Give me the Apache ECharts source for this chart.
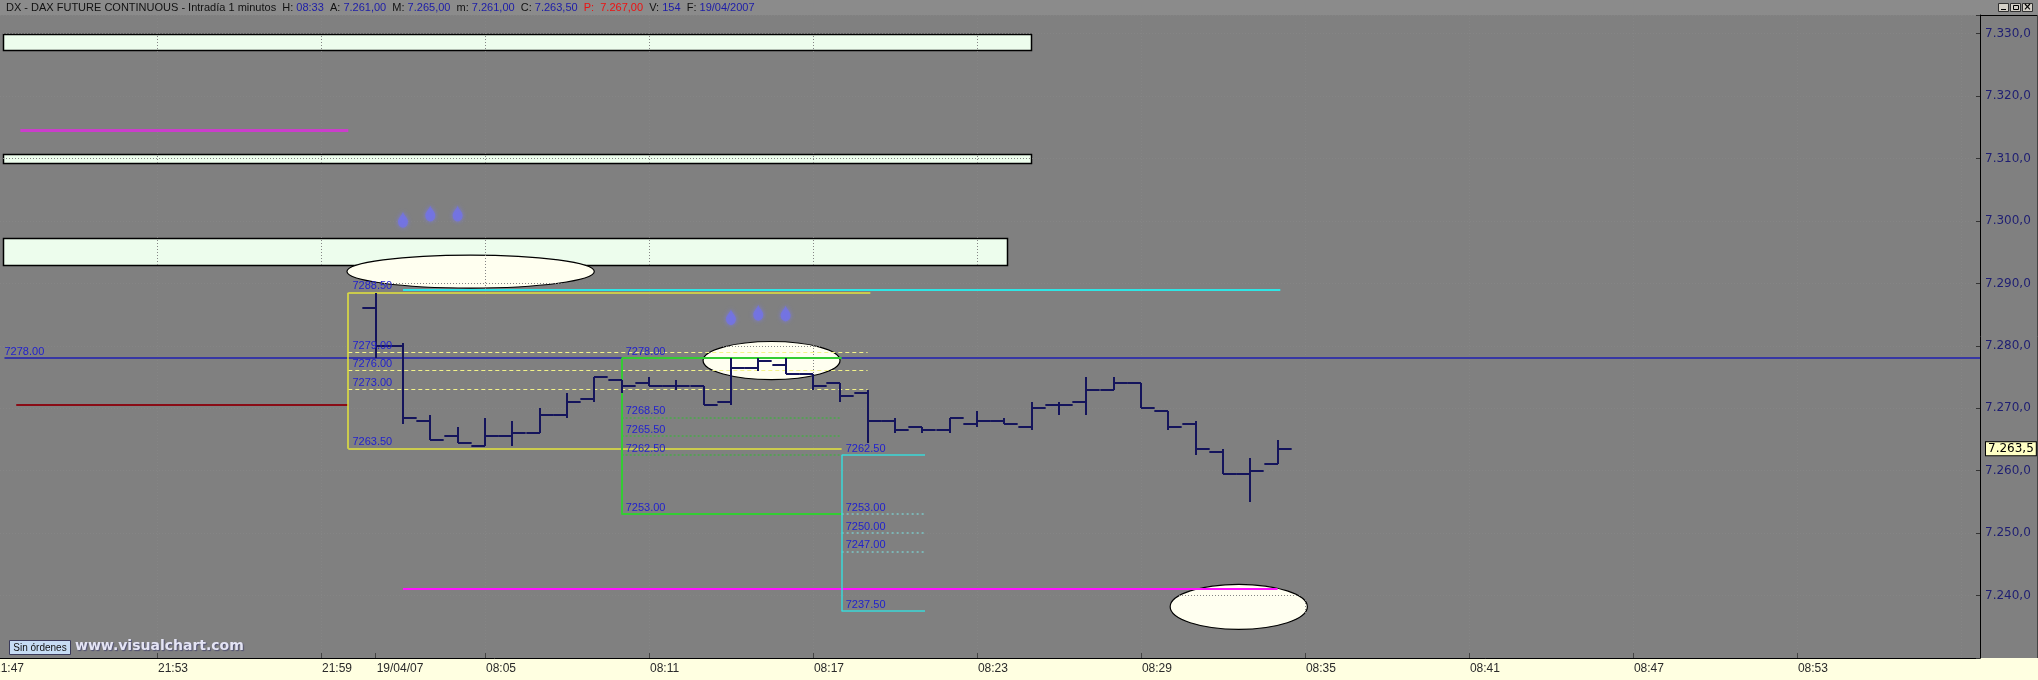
<!DOCTYPE html>
<html><head><meta charset="utf-8">
<script src="https://cdn.jsdelivr.net/npm/echarts@6/dist/echarts.min.js"></script>
<style>html,body{margin:0;padding:0;background:#808080;}#c{width:2038px;height:680px;}</style>
</head><body><div id="c"></div>
<script>
// ---------------- DATA ----------------
const instrument = 'DX - DAX FUTURE CONTINUOUS - Intradía 1 minutos';
const lastTime = '08:33';
const prevClose = 7267;
const volume = 154;
const dateStr = '19/04/2007';

// time axis (bar index positions)
const tickIndex  = [0, 6, 12, 14, 18, 24, 30, 36, 42, 48, 54, 60, 66];
const tickLabels = ['21:47','21:53','21:59','19/04/07','08:05','08:11','08:17','08:23','08:29','08:35','08:41','08:47','08:53'];
const gridIndex  = [6, 12, 18, 24, 30, 36, 42, 48, 54, 60, 66, 72];
const xMin = 0.256, xMax = 72.7;
const yMin = 7230, yMax = 7333, yStep = 10;

// 1-minute OHLC bars, first bar at index 14
const firstBarIndex = 14;
const barOpen  = [7286, 7280, 7268, 7265.5, 7264, 7265.5, 7266, 7269, 7271.5, 7274.5, 7274, 7273.5, 7273.5, 7271, 7276.5, 7277, 7275.5, 7274, 7272.5, 7268, 7267, 7266.5, 7267.5, 7268, 7267, 7270.5, 7271, 7273, 7274, 7269.5, 7267.5, 7263, 7259.5, 7261];
const barHigh  = [7288.5, 7280.5, 7269, 7267, 7268.5, 7268, 7270, 7272.5, 7275, 7274.5, 7275, 7274.5, 7273.5, 7278, 7278, 7278, 7275.5, 7274, 7273, 7268.5, 7267, 7268.5, 7269.5, 7268.5, 7271, 7271, 7275, 7275, 7274, 7269.5, 7268, 7263.5, 7262, 7265];
const barLow   = [7278, 7267.5, 7265, 7264.5, 7264, 7264, 7266, 7268.5, 7271, 7272.5, 7273.5, 7273, 7270.5, 7270.5, 7276, 7275.5, 7273, 7271, 7264.5, 7266, 7266, 7266, 7267, 7267.5, 7266.5, 7269, 7269, 7273, 7270, 7266.5, 7262.5, 7259.5, 7255, 7261];
const barClose = [7280, 7268.5, 7265, 7264.5, 7265.5, 7266, 7269, 7271, 7275, 7273.5, 7273.5, 7273.5, 7270.5, 7276.5, 7277.5, 7275.5, 7273.5, 7272, 7268, 7266.5, 7266.5, 7268.5, 7268, 7267.5, 7270, 7270.5, 7273, 7274, 7270, 7267, 7263.5, 7259.5, 7260, 7263.5];

// light green zones (x from, x to, low, high)
const zoneFrom = [0.38, 0.38, 0.38];
const zoneTo   = [38.0, 38.0, 37.1];
const zoneLow  = [7327.5, 7309.3, 7292.9];
const zoneHigh = [7330.0, 7310.8, 7297.2];

// highlight ovals (x from, x to, low, high)
const ovalFrom = [12.95, 25.98, 43.07];
const ovalTo   = [22.0, 30.99, 48.09];
const ovalLow  = [7289.25, 7274.6, 7234.6];
const ovalHigh = [7294.55, 7280.7, 7241.8];

// single horizontal lines [from, to, level]
const pivotLine    = [0.42, 72.7, 7278];
const magentaUpper = [1, 13, 7314.5];
const darkRedLine  = [0.85, 13, 7270.5];
const magentaLower = [15, 47, 7241];
const cyanTopLine  = [15, 47.1, 7289];

// yellow retracement box
const yellowFrom = 13, yellowTopTo = 32.1, yellowBottomTo = 31.05, yellowInnerTo = 32;
const yellowTop = 7288.5, yellowBottom = 7263.5;
const yellowInner = [7279, 7276, 7273];

// green projection box
const greenFrom = 23, greenTo = 31.05;
const greenTop = 7278, greenBottom = 7253;
const greenInner = [7268.5, 7265.5, 7262.5];

// cyan projection box
const cyanFrom = 31.05, cyanTo = 34.1;
const cyanTop = 7262.5, cyanBottom = 7237.5;
const cyanInner = [7253, 7250, 7247];

// blue signal arrows
const arrowX = [15, 16, 17, 27, 28, 29];
const arrowY = [7300.2, 7301.2, 7301.2, 7284.6, 7285.3, 7285.2];

// ---------------- HELPERS ----------------
function fmtEs(v, d) {
  const p = v.toFixed(d).split('.');
  const ip = p[0].replace(/\B(?=(\d{3})+(?!\d))/g, '.');
  return p.length > 1 ? ip + ',' + p[1] : ip;
}
function crisp(v, w) { return (Math.round(w) % 2 === 1) ? Math.floor(v) + 0.5 : Math.round(v); }

function segSeries(name, segs, color, width, dash, z) {
  return {
    type: 'custom', name: name, z: z || 4, silent: true, clip: false,
    data: segs, encode: { x: [0, 2], y: [1, 3] },
    renderItem: function (p, api) {
      const a = api.coord([api.value(0), api.value(1)]);
      const b = api.coord([api.value(2), api.value(3)]);
      let x1 = a[0], y1 = a[1], x2 = b[0], y2 = b[1];
      if (Math.abs(y1 - y2) < 0.01) { y1 = y2 = crisp(y1, width); }
      if (Math.abs(x1 - x2) < 0.01) { x1 = x2 = crisp(x1, width); }
      return { type: 'line', shape: { x1: x1, y1: y1, x2: x2, y2: y2 },
        style: { stroke: color, lineWidth: width, lineDash: dash || null, fill: null } };
    }
  };
}
function hSeg(from, to, y) { return [from, y, to, y]; }
function vSeg(x, y1, y2) { return [x, y1, x, y2]; }

function labelSeries(name, pts, color) {
  return {
    type: 'custom', name: name, z: 6, silent: true, clip: false,
    data: pts.map(p => [p[0], p[1]]), encode: { x: 0, y: 1 },
    renderItem: function (p, api) {
      const c = api.coord([api.value(0), api.value(1)]);
      return { type: 'text', x: c[0], y: c[1] - 1,
        style: { text: api.value(1).toFixed(2), fill: color, font: '11px "Liberation Sans", Arial, sans-serif',
          align: 'left', verticalAlign: 'bottom' } };
    }
  };
}

const gridColor = '#858585';
const levelLabelColor = '#2222cc';
const axisFont = '12px "Liberation Sans Narrow", "Liberation Sans", Arial, sans-serif';

// build segment groups
const yellowSolid = [
  hSeg(yellowFrom, yellowTopTo, yellowTop),
  hSeg(yellowFrom, yellowBottomTo, yellowBottom),
  vSeg(yellowFrom, yellowBottom, yellowTop)
];
const yellowDashed = yellowInner.map(v => hSeg(yellowFrom, yellowInnerTo, v));
const greenSolid = [
  hSeg(greenFrom, greenTo, greenTop),
  hSeg(greenFrom, greenTo, greenBottom),
  vSeg(greenFrom, greenBottom, greenTop)
];
const greenDotted = greenInner.map(v => hSeg(greenFrom, greenTo, v));
const cyanSolid = [
  hSeg(cyanFrom, cyanTo, cyanTop),
  hSeg(cyanFrom, cyanTo, cyanBottom),
  vSeg(cyanFrom, cyanBottom, cyanTop)
];
const cyanDotted = cyanInner.map(v => hSeg(cyanFrom, cyanTo, v));

const barData = barOpen.map((o, i) => [firstBarIndex + i, o, barHigh[i], barLow[i], barClose[i]]);
const last = barOpen.length - 1;
const lastClose = barClose[last];

const titleText =
  '{k|' + instrument + '  H: }{v|' + lastTime + '}' +
  '{k|  A: }{v|' + fmtEs(barOpen[last], 2) + '}' +
  '{k|  M: }{v|' + fmtEs(barHigh[last], 2) + '}' +
  '{k|  m: }{v|' + fmtEs(barLow[last], 2) + '}' +
  '{k|  C: }{v|' + fmtEs(barClose[last], 2) + '}' +
  '{r|  P:  ' + fmtEs(prevClose, 2) + '}' +
  '{k|  V: }{v|' + volume + '}' +
  '{k|  F: }{v|' + dateStr + '}';

// ---------------- CHART ----------------
const chart = echarts.init(document.getElementById('c'), null, { renderer: 'canvas' });
const option = {
  backgroundColor: '#808080',
  animation: false,
  grid: { left: 0, right: 58, top: 15, bottom: 22, containLabel: false },
  xAxis: [
    {
      type: 'value', min: xMin, max: xMax, position: 'bottom', z: 3,
      axisLine: { show: true, onZero: false, lineStyle: { color: '#000', width: 1 } },
      axisTick: { show: true, inside: true, length: 5, customValues: tickIndex, lineStyle: { color: '#444' } },
      axisLabel: {
        customValues: tickIndex, align: 'left', margin: 5, color: '#2a2a2a', fontSize: 12,
        fontFamily: '"Liberation Sans Narrow", "Liberation Sans", Arial, sans-serif', padding: [0, 0, 0, 1],
        formatter: function (v) { const k = tickIndex.indexOf(Math.round(v)); return k >= 0 ? tickLabels[k] : ''; }
      },
      splitLine: { show: false }
    },
    {
      type: 'value', min: xMin, max: xMax, position: 'top', z: 3,
      axisLine: { show: false }, axisTick: { show: false, customValues: gridIndex }, axisLabel: { show: false, customValues: gridIndex },
      splitLine: { show: true, lineStyle: { color: gridColor, width: 1, type: [1, 2] } }
    }
  ],
  yAxis: {
    type: 'value', position: 'right', min: yMin, max: yMax, interval: yStep, z: 3,
    axisLine: { show: true, onZero: false, lineStyle: { color: '#000', width: 1 } },
    axisTick: { show: true, inside: true, length: 4, lineStyle: { color: '#333' } },
    axisLabel: {
      margin: 5, color: '#1e1e72', fontSize: 12, fontFamily: '"DejaVu Sans", Verdana, sans-serif',
      formatter: function (v) { return (v % 10 === 0 && v > yMin) ? fmtEs(v, 1) : ''; }
    },
    splitLine: { show: true, lineStyle: { color: gridColor, width: 1, type: [1, 2] } }
  },
  series: [
    // light green zones
    {
      type: 'custom', name: 'zones', z: 1, silent: true, clip: false,
      data: zoneFrom.map((x, i) => [x, zoneLow[i], zoneTo[i], zoneHigh[i]]),
      encode: { x: [0, 2], y: [1, 3] },
      renderItem: function (p, api) {
        const a = api.coord([api.value(0), api.value(3)]);
        const b = api.coord([api.value(2), api.value(1)]);
        const x = Math.round(a[0]) + 0.5, y = Math.round(a[1]) + 0.5;
        return { type: 'rect', shape: { x: x, y: y, width: Math.round(b[0] - a[0]), height: Math.round(b[1] - a[1]) },
          style: { fill: '#edfded', stroke: '#000', lineWidth: 1.5 } };
      }
    },
    // ovals
    {
      type: 'custom', name: 'ovals', z: 1, silent: true, clip: false,
      data: ovalFrom.map((x, i) => [x, ovalLow[i], ovalTo[i], ovalHigh[i]]),
      encode: { x: [0, 2], y: [1, 3] },
      renderItem: function (p, api) {
        const a = api.coord([api.value(0), api.value(3)]);
        const b = api.coord([api.value(2), api.value(1)]);
        return { type: 'ellipse', shape: { cx: (a[0] + b[0]) / 2, cy: (a[1] + b[1]) / 2, rx: (b[0] - a[0]) / 2, ry: (b[1] - a[1]) / 2 },
          style: { fill: '#fffff0', stroke: '#000', lineWidth: 1.2 } };
      }
    },
    segSeries('pivot', [hSeg(pivotLine[0], pivotLine[1], pivotLine[2])], '#1f1fb0', 1.6),
    segSeries('magentaUpper', [hSeg(magentaUpper[0], magentaUpper[1], magentaUpper[2])], '#cc3dcc', 3),
    segSeries('darkRed', [hSeg(darkRedLine[0], darkRedLine[1], darkRedLine[2])], '#8a0c16', 2),
    segSeries('magentaLower', [hSeg(magentaLower[0], magentaLower[1], magentaLower[2])], '#ff10ff', 2),
    segSeries('yellowDashed', yellowDashed, '#f4f48a', 1, [4, 3]),
    segSeries('yellowBox', yellowSolid, '#e4e43c', 1.5),
    segSeries('cyanTop', [hSeg(cyanTopLine[0], cyanTopLine[1], cyanTopLine[2])], '#2ee6e6', 2),
    segSeries('greenDotted', greenDotted, '#4aa84a', 1.5, [2, 2]),
    segSeries('greenBox', greenSolid, '#33cc33', 2),
    segSeries('cyanDotted', cyanDotted, '#7cc8c8', 1.5, [2, 3]),
    segSeries('cyanBox', cyanSolid, '#3ad8d8', 1.5),
    {
      type: 'scatter', name: 'arrows', z: 4, silent: true,
      data: arrowX.map((x, i) => [x, arrowY[i]]),
      symbol: 'path://M50 0 C55 20 100 55 100 78 A50 50 0 0 1 0 78 C0 55 45 20 50 0 Z',
      symbolSize: [10, 16],
      itemStyle: { color: '#7272e6', shadowBlur: 4, shadowColor: 'rgba(120,120,255,0.9)' }
    },
    // OHLC bars
    {
      type: 'custom', name: 'DAX', z: 5, silent: true, clip: false,
      data: barData, encode: { x: 0, y: [1, 2, 3, 4] },
      renderItem: function (p, api) {
        const x = api.value(0);
        const pH = api.coord([x, api.value(2)]);
        const pL = api.coord([x, api.value(3)]);
        const pO = api.coord([x, api.value(1)]);
        const pC = api.coord([x, api.value(4)]);
        const w = api.size([1, 0])[0] * 0.5;
        const cx = Math.round(pH[0]);
        const st = { stroke: '#14145c', lineWidth: 2 };
        return { type: 'group', children: [
          { type: 'line', shape: { x1: cx, y1: Math.round(pH[1]), x2: cx, y2: Math.round(pL[1]) }, style: st },
          { type: 'line', shape: { x1: cx - w, y1: Math.round(pO[1]), x2: cx, y2: Math.round(pO[1]) }, style: st },
          { type: 'line', shape: { x1: cx, y1: Math.round(pC[1]), x2: cx + w, y2: Math.round(pC[1]) }, style: st }
        ] };
      },
      markLine: {
        silent: true, symbol: 'none', animation: false,
        lineStyle: { color: 'rgba(0,0,0,0)', width: 1 },
        label: {
          show: true, position: 'end', distance: 6, formatter: fmtEs(lastClose, 1),
          backgroundColor: '#ffffc4', borderColor: '#000', borderWidth: 1, padding: [1, 2, 0, 2],
          color: '#000', fontSize: 12, fontFamily: '"DejaVu Sans", Verdana, sans-serif'
        },
        data: [{ yAxis: lastClose }]
      }
    },
    // first time label, cut by the left edge of the window
    {
      type: 'custom', name: 'edgeTick', z: 6, silent: true, clip: false,
      data: [[tickIndex[0], yMin]], encode: { x: 0, y: 1 },
      renderItem: function (p, api) {
        const c = api.coord([api.value(0), api.value(1)]);
        return { type: 'text', x: c[0] + 1, y: c[1] + 5,
          style: { text: tickLabels[0], fill: '#2a2a2a', font: axisFont, align: 'left', verticalAlign: 'top' } };
      }
    },
    labelSeries('yellowLabels', [[yellowFrom + 0.15, yellowTop]].concat(yellowInner.map(v => [yellowFrom + 0.15, v]), [[yellowFrom + 0.15, yellowBottom]]), levelLabelColor),
    labelSeries('greenLabels', [[greenFrom + 0.15, greenTop]].concat(greenInner.map(v => [greenFrom + 0.15, v]), [[greenFrom + 0.15, greenBottom]]), levelLabelColor),
    labelSeries('cyanLabels', [[cyanFrom + 0.15, cyanTop]].concat(cyanInner.map(v => [cyanFrom + 0.15, v]), [[cyanFrom + 0.15, cyanBottom]]), levelLabelColor),
    labelSeries('pivotLabel', [[pivotLine[0], pivotLine[2]]], levelLabelColor)
  ],
  graphic: [
    { type: 'rect', silent: true, z: -10, shape: { x: 0, y: 0, width: 2038, height: 15 }, style: { fill: '#8b8b8b' } },
    { type: 'rect', silent: true, z: -10, shape: { x: 0, y: 658, width: 2038, height: 22 }, style: { fill: '#ffffe1' } },
    { type: 'line', silent: true, z: 10, shape: { x1: 1980, y1: 15.5, x2: 2038, y2: 15.5 }, style: { stroke: '#000', lineWidth: 1 } },
    { type: 'line', silent: true, z: 10, shape: { x1: 2037.5, y1: 15, x2: 2037.5, y2: 658 }, style: { stroke: '#444', lineWidth: 1 } },
    {
      type: 'text', silent: true, z: 10, x: 6, y: 8,
      style: {
        text: titleText, font: '11px "Liberation Sans", Arial, sans-serif', verticalAlign: 'middle', align: 'left',
        rich: {
          k: { fill: '#111', font: '11px "Liberation Sans", Arial, sans-serif' },
          v: { fill: '#1c1ca8', font: '11px "Liberation Sans", Arial, sans-serif' },
          r: { fill: '#ee1111', font: '11px "Liberation Sans", Arial, sans-serif' }
        }
      }
    },
    // window buttons
    { type: 'rect', silent: true, z: 10, shape: { x: 1998.5, y: 3.5, width: 10, height: 8 }, style: { fill: '#d4d0c8', stroke: '#303030', lineWidth: 1 } },
    { type: 'rect', silent: true, z: 10, shape: { x: 2010.5, y: 3.5, width: 10, height: 8 }, style: { fill: '#d4d0c8', stroke: '#303030', lineWidth: 1 } },
    { type: 'rect', silent: true, z: 10, shape: { x: 2022.5, y: 3.5, width: 10, height: 8 }, style: { fill: '#d4d0c8', stroke: '#303030', lineWidth: 1 } },
    { type: 'line', silent: true, z: 11, shape: { x1: 2001, y1: 9.5, x2: 2006, y2: 9.5 }, style: { stroke: '#000', lineWidth: 1 } },
    { type: 'rect', silent: true, z: 11, shape: { x: 2013.5, y: 5.5, width: 5, height: 4 }, style: { fill: 'none', stroke: '#000', lineWidth: 1 } },
    { type: 'text', silent: true, z: 11, x: 2027.5, y: 7.5, style: { text: '×', fill: '#000', font: 'bold 10px "DejaVu Sans", sans-serif', align: 'center', verticalAlign: 'middle' } },
    // order status box and watermark
    { type: 'rect', silent: true, z: 10, shape: { x: 9.5, y: 640.5, width: 61, height: 14 }, style: { fill: '#c6dcf4', stroke: '#3a3a5a', lineWidth: 1 } },
    { type: 'text', silent: true, z: 11, x: 40, y: 648, style: { text: 'Sin órdenes', fill: '#101010', font: '10px "Liberation Sans", Arial, sans-serif', align: 'center', verticalAlign: 'middle' } },
    { type: 'text', silent: true, z: 10, x: 75, y: 646, style: { text: 'www.visualchart.com', fill: '#e4e4f4', font: 'bold 14px "DejaVu Sans", Verdana, sans-serif', align: 'left', verticalAlign: 'middle', textShadowColor: 'rgba(70,70,110,0.8)', textShadowOffsetX: 1, textShadowOffsetY: 1, textShadowBlur: 1 } }
  ]
};
chart.setOption(option);
</script>
</body></html>
